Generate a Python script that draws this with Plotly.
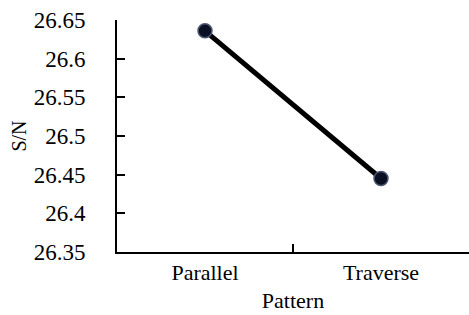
import plotly.graph_objects as go

categories = ["Parallel", "Traverse"]
sn_values = [26.636, 26.445]
y_ticks = [26.35, 26.4, 26.45, 26.5, 26.55, 26.6, 26.65]
y_tick_labels = ["26.35", "26.4", "26.45", "26.5", "26.55", "26.6", "26.65"]

FONT = "Liberation Serif"

fig = go.Figure()
fig.add_trace(go.Scatter(
    x=categories, y=sn_values, mode="lines+markers",
    line=dict(color="black", width=5),
    marker=dict(size=14, color="#0b0f24", line=dict(color="#4a5670", width=1.5)),
    showlegend=False,
))

fig.update_layout(
    width=469, height=315,
    margin=dict(l=117, r=0, t=20, b=63, autoexpand=False),
    paper_bgcolor="white", plot_bgcolor="white",
    font=dict(family=FONT, size=22, color="black"),
)
fig.update_xaxes(
    type="category", range=[-0.5, 1.5], automargin=False,
    showline=True, linecolor="black", linewidth=2,
    ticks="inside", tickson="boundaries", ticklen=8, tickwidth=2, tickcolor="black",
    showgrid=False, zeroline=False,
    tickfont=dict(family=FONT, size=22),
    title=dict(text="Pattern", font=dict(family=FONT, size=22), standoff=8),
)
fig.update_yaxes(
    type="linear", range=[26.35, 26.65], automargin=False,
    tickmode="array", tickvals=y_ticks, ticktext=y_tick_labels,
    showline=True, linecolor="black", linewidth=2,
    ticks="inside", ticklen=8, tickwidth=2, tickcolor="black",
    showgrid=False, zeroline=False,
    ticklabelstandoff=25,
    tickfont=dict(family=FONT, size=23),
    title=dict(text="S/N", font=dict(family=FONT, size=20), standoff=2),
)

fig.write_html("out.html", config={"displayModeBar": False},
               post_script="document.body.style.margin='0';")
